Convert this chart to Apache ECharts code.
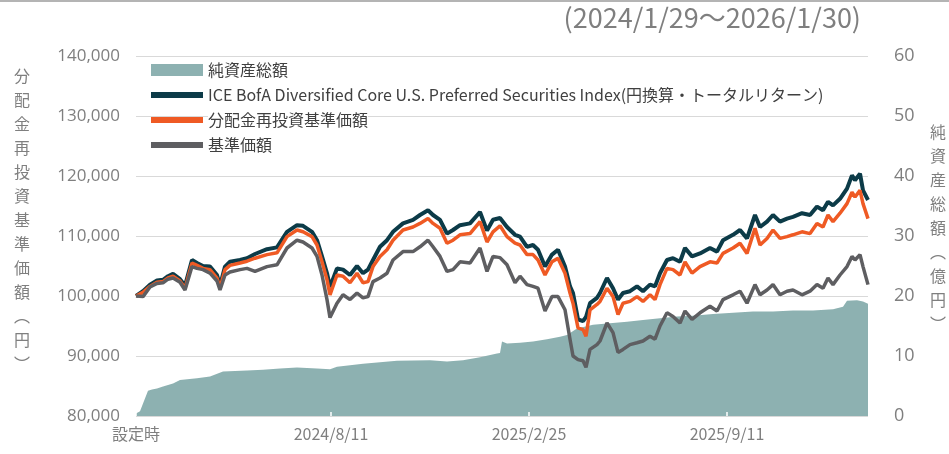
<!DOCTYPE html>
<html>
<head>
<meta charset="utf-8">
<script src="https://cdn.jsdelivr.net/npm/echarts@6/dist/echarts.min.js"></script>
<style>
  html, body { margin: 0; padding: 0; background: #fff; }
  #chart { width: 949px; height: 454px; }
</style>
</head>
<body>
<div id="chart"></div>
<script>
// 期間
const startDate = '2024/1/29'
const endDate = '2026/1/30'

// 目盛ラベル
const tickDates = ['2024/1/29', '2024/8/11', '2025/2/25', '2025/9/11']
const firstLabel = '設定時'

// 系列名
const seriesNames = [
  '純資産総額',
  'ICE BofA Diversified Core U.S. Preferred Securities Index(円換算・トータルリターン)',
  '分配金再投資基準価額',
  '基準価額'
]

// 設定日からの経過日数（線グラフ）
const lineDays = [
  0, 7, 14, 21, 27, 32, 37, 44, 49, 56,
  61, 67, 74, 81, 84, 89, 94, 104, 111, 119,
  131, 141, 151, 161, 167, 176, 181, 186, 191, 194,
  201, 207, 214, 221, 227, 232, 237, 244, 251, 257,
  267, 277, 284, 292, 297, 304, 311, 317, 324, 334,
  344, 351, 357, 364, 371, 379, 384, 391, 397, 402,
  409, 416, 422, 429, 434, 437, 442, 447, 450, 454,
  461, 464, 471, 477, 482, 487, 494, 501, 507, 514,
  519, 524, 531, 537, 544, 549, 556, 564, 574, 581,
  587, 597, 604, 611, 619, 624, 631, 637, 644, 651,
  657, 666, 674, 681, 687, 692, 697, 704, 711, 716,
  719, 724, 727, 732
]

// 参考指数
const indexValues = [
  100000, 100800, 101900, 102600, 102700, 103300, 103700, 102800, 101700, 106000,
  105500, 105000, 104900, 103500, 101700, 104900, 105700, 106000, 106300, 107000,
  107800, 108100, 110700, 111800, 111700, 110700, 109300, 106600, 103800, 101500,
  104600, 104400, 103500, 105000, 103800, 104400, 106000, 108200, 109300, 110700,
  112100, 112700, 113500, 114300, 113500, 112700, 110400, 111000, 111800, 112100,
  114000, 110900, 112700, 113000, 111500, 110200, 109900, 108200, 108500, 107700,
  104900, 106900, 107700, 104900, 101600, 100500, 96100, 95800, 96500, 98800,
  99700, 100500, 103000, 101300, 99400, 100500, 100800, 101600, 100800, 101900,
  101600, 103800, 106000, 106300, 105700, 108000, 106600, 107100, 108000, 107400,
  109300, 110200, 111000, 109600, 113500, 111500, 112400, 113500, 112400, 112900,
  113200, 113800, 113500, 114900, 114300, 115700, 115100, 116200, 117900, 120100,
  119300, 120400, 117600, 116000
]

// 分配金再投資基準価額
const reinvestValues = [
  100000, 100600, 101600, 102300, 102400, 103000, 103300, 102500, 101300, 105500,
  105100, 104600, 104400, 103000, 101300, 104400, 105100, 105500, 105800, 106300,
  106900, 107200, 109900, 111000, 110700, 109900, 108500, 105700, 102700, 100200,
  103500, 103300, 102200, 103800, 102200, 102400, 104900, 106600, 107700, 109300,
  111000, 111500, 112100, 112900, 112100, 111300, 108800, 109300, 110200, 110400,
  112400, 109000, 110700, 111700, 109900, 108800, 108500, 106900, 106900, 106000,
  103500, 105700, 106300, 103800, 100500, 98800, 94700, 94400, 93300, 97700,
  98600, 99100, 101300, 99900, 96900, 98800, 99100, 99900, 99100, 100200,
  99400, 101900, 104600, 104400, 103500, 105700, 103800, 104900, 105700, 105500,
  107100, 108000, 108800, 107100, 111300, 108500, 109600, 111000, 109600, 109900,
  110200, 110700, 110400, 112100, 111500, 113500, 112400, 113800, 115400, 117300,
  116500, 117600, 115400, 112900
]

// 基準価額
const navValues = [
  100000, 99900, 101500, 102100, 102200, 102800, 103000, 102300, 101000, 104900,
  104600, 104400, 103800, 102500, 101000, 103500, 104000, 104400, 104600, 104100,
  104900, 105200, 108000, 109300, 109000, 108000, 106600, 103500, 99400, 96400,
  98800, 100200, 99400, 100500, 99700, 99900, 102400, 103000, 103800, 106000,
  107400, 107400, 108200, 109300, 108200, 106600, 104100, 104400, 105700, 105500,
  108000, 104100, 106600, 106400, 105200, 102200, 103300, 101900, 101600, 101300,
  97500, 99900, 99900, 97700, 92800, 90000, 89400, 89200, 88100, 91100,
  91900, 92500, 95500, 93900, 90600, 91100, 91900, 92200, 92500, 93300,
  92800, 95000, 97200, 96600, 95500, 97500, 96100, 97200, 98300, 97500,
  99400, 100200, 100800, 98800, 101900, 100200, 101000, 101900, 100200, 100800,
  101000, 100200, 100800, 101900, 101300, 103000, 101900, 103500, 104900, 106600,
  106000, 106900, 104900, 101900
]

// 純資産総額（億円）
const aumDays = [
  0, 4, 8, 12, 16, 21, 27, 37, 44, 61,
  74, 87, 111, 127, 144, 161, 181, 194, 201, 227,
  261, 294, 311, 327, 344, 361, 364, 366, 371, 384,
  397, 411, 424, 431, 441, 457, 471, 491, 507, 524,
  541, 557, 577, 597, 617, 637, 657, 677, 697, 707,
  711, 721, 727, 732
]
const aumValues = [
  0.4, 0.8, 2.5, 4.2, 4.4, 4.6, 4.9, 5.4, 6.0, 6.3,
  6.6, 7.4, 7.6, 7.7, 7.9, 8.1, 7.9, 7.8, 8.2, 8.7,
  9.2, 9.3, 9.1, 9.3, 9.8, 10.4, 10.5, 12.4, 12.1, 12.2,
  12.4, 12.8, 13.2, 13.5, 14.6, 15.2, 15.4, 15.7, 16.0, 16.3,
  16.6, 16.7, 17.0, 17.2, 17.4, 17.4, 17.6, 17.6, 17.8, 18.2,
  19.2, 19.3, 19.1, 18.7
]

// 日付カテゴリ（毎日）
const toUTC = s => {
  const [y, m, d] = s.split('/').map(Number)
  return Date.UTC(y, m - 1, d)
}
const categories = []
for (let t = toUTC(startDate); t <= toUTC(endDate); t += 86400000) {
  const dt = new Date(t)
  categories.push(`${dt.getUTCFullYear()}/${dt.getUTCMonth() + 1}/${dt.getUTCDate()}`)
}
const showTick = (index, value) => tickDates.includes(value)

const areaColor = '#8db1b1'
const colors = ['#0c3b48', '#ef5a24', '#5e5e61']
const textGray = '#7f7f7f'

const chart = echarts.init(document.getElementById('chart'))

// 凡例の線アイコン（シンボルは非表示）
const lineLegend = (name, color) => ({
  name,
  itemStyle: { opacity: 0 },
  lineStyle: { width: 6, color }
})

const option = {
  animation: false,
  grid: { left: 136, right: 81, top: 56, bottom: 38 },
  legend: {
    orient: 'vertical',
    left: 148,
    top: 62,
    padding: 0,
    itemWidth: 52,
    itemHeight: 12,
    itemGap: 9,
    textStyle: {
      fontFamily: 'Noto Sans CJK JP',
      fontSize: 16,
      lineHeight: 16,
      color: '#404040',
      backgroundColor: '#fff'
    },
    data: [
      { name: seriesNames[0], icon: 'rect', itemStyle: { color: areaColor } },
      lineLegend(seriesNames[1], colors[0]),
      lineLegend(seriesNames[2], colors[1]),
      lineLegend(seriesNames[3], colors[2])
    ]
  },
  xAxis: {
    type: 'category',
    data: categories,
    boundaryGap: false,
    z: 5,
    axisLine: { show: false },
    axisTick: {
      show: true,
      inside: true,
      length: 4,
      interval: showTick,
      lineStyle: { color: '#fff', width: 1.5 }
    },
    axisLabel: {
      interval: showTick,
      formatter: value => (value === categories[0] ? firstLabel : value),
      color: textGray,
      fontFamily: 'Noto Sans CJK JP',
      fontSize: 16,
      margin: 10
    }
  },
  yAxis: [
    {
      type: 'value',
      position: 'left',
      min: 80000,
      max: 140000,
      interval: 10000,
      axisLine: { show: false },
      axisTick: { show: false },
      axisLabel: { color: textGray, fontFamily: 'Open Sans', fontSize: 17, margin: 16 },
      splitLine: { lineStyle: { color: '#d9d9d9', width: 1 } }
    },
    {
      type: 'value',
      position: 'right',
      min: 0,
      max: 60,
      interval: 10,
      axisLine: { show: false },
      axisTick: { show: false },
      axisLabel: { color: textGray, fontFamily: 'Open Sans', fontSize: 18, margin: 26 },
      splitLine: { show: false }
    }
  ],
  series: [
    {
      name: seriesNames[0],
      type: 'line',
      yAxisIndex: 1,
      symbol: 'none',
      color: areaColor,
      lineStyle: { width: 0 },
      areaStyle: { color: areaColor, opacity: 1 },
      data: aumDays.map((d, i) => [d, aumValues[i]])
    },
    {
      name: seriesNames[1],
      type: 'line',
      symbol: 'none',
      color: colors[0],
      lineStyle: { width: 4, color: colors[0] },
      data: lineDays.map((d, i) => [d, indexValues[i]])
    },
    {
      name: seriesNames[2],
      type: 'line',
      symbol: 'none',
      color: colors[1],
      lineStyle: { width: 3.5, color: colors[1] },
      data: lineDays.map((d, i) => [d, reinvestValues[i]])
    },
    {
      name: seriesNames[3],
      type: 'line',
      symbol: 'none',
      color: colors[2],
      lineStyle: { width: 3.5, color: colors[2] },
      data: lineDays.map((d, i) => [d, navValues[i]])
    }
  ],
  graphic: [
    {
      type: 'rect',
      left: 0,
      top: 0,
      shape: { width: 949, height: 2 },
      style: { fill: '#b4b4b4' }
    },
    {
      type: 'text',
      right: 88,
      top: 4,
      style: {
        text: '(2024/1/29～2026/1/30)',
        font: '27px "Noto Sans CJK JP"',
        fill: textGray
      }
    },
    {
      type: 'text',
      x: 22,
      y: 64,
      style: {
        text: '分配金再投資基準価額︵円︶'.split('').join('\n'),
        font: '16px "Noto Sans CJK JP"',
        lineHeight: 24,
        align: 'center',
        fill: textGray
      }
    },
    {
      type: 'text',
      x: 938,
      y: 120,
      style: {
        text: '純資産総額︵億円︶'.split('').join('\n'),
        font: '16px "Noto Sans CJK JP"',
        lineHeight: 24,
        align: 'center',
        fill: textGray
      }
    }
  ]
}

chart.setOption(option)
window.addEventListener('resize', () => chart.resize())
</script>
</body>
</html>
